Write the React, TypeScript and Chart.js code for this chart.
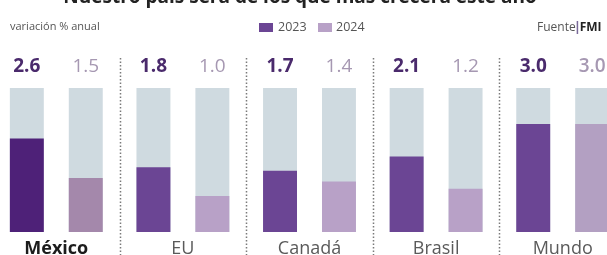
import React, { useEffect, useRef } from "react";
import { Chart, registerables } from "chart.js";

Chart.register(...registerables);

const categories = ["México", "EU", "Canadá", "Brasil", "Mundo"];
const values2023 = [2.6, 1.8, 1.7, 2.1, 3.0];
const values2024 = [1.5, 1.0, 1.4, 1.2, 3.0];
const scaleTop = [4, 4, 4, 4, 4];
const labels2023 = ["2.6", "1.8", "1.7", "2.1", "3.0"];
const labels2024 = ["1.5", "1.0", "1.4", "1.2", "3.0"];
const legendLabels = ["2023", "2024"];
const titleText = "Nuestro país será de los que más crecerá este año";
const subtitleText = "variación % anual";
const sourceLabel = "Fuente";
const sourceName = "FMI";

const FONT = "'Open Sans', 'DejaVu Sans', sans-serif";
const OFF = 7; // canvas offset (page x + OFF = canvas x)

const col2023 = ["#4e2178", "#6b4594", "#6b4594", "#6b4594", "#6b4594"];
const col2024 = ["#a488ab", "#b8a1c7", "#b8a1c7", "#b8a1c7", "#b3a0c2"];
const colBg = "#cfdae0";

const overlay = {
  id: "overlay",
  afterDatasetsDraw(chart: any) {
    const ctx = chart.ctx;
    const xs = chart.scales.x;
    ctx.save();
    // dividers
    ctx.strokeStyle = "#7a7a7a";
    ctx.lineWidth = 1.5;
    ctx.setLineDash([1.5, 2]);
    for (let i = 0; i < categories.length - 1; i++) {
      const x = Math.round((xs.getPixelForValue(i) + xs.getPixelForValue(i + 1)) / 2) + 0.5;
      ctx.beginPath();
      ctx.moveTo(x, 58);
      ctx.lineTo(x, 255);
      ctx.stroke();
    }
    ctx.setLineDash([]);
    // value labels
    ctx.textAlign = "center";
    ctx.textBaseline = "middle";
    const m0 = chart.getDatasetMeta(0);
    const m1 = chart.getDatasetMeta(1);
    m0.data.forEach((bar: any, i: number) => {
      ctx.font = `bold 19px ${FONT}`;
      ctx.fillStyle = "#4a2a6c";
      ctx.fillText(labels2023[i], bar.x, 67);
    });
    m1.data.forEach((bar: any, i: number) => {
      ctx.font = i === 4 ? `600 19px ${FONT}` : `19px ${FONT}`;
      ctx.fillStyle = "#a698b2";
      ctx.fillText(labels2024[i], bar.x, 67);
    });
    // category labels
    categories.forEach((c, i) => {
      const x = xs.getPixelForValue(i);
      if (i === 0) {
        ctx.font = `bold 18px ${FONT}`;
        ctx.fillStyle = "#1c1c1c";
      } else {
        ctx.font = `18px ${FONT}`;
        ctx.fillStyle = "#5a5a5a";
      }
      ctx.fillText(c, x, 249);
    });
    // title (cropped at top)
    ctx.font = `bold 19px ${FONT}`;
    ctx.fillStyle = "#222";
    ctx.textBaseline = "alphabetic";
    ctx.fillText(titleText, 300 + OFF, 3);
    // subtitle
    ctx.textAlign = "left";
    ctx.textBaseline = "middle";
    ctx.font = `11px ${FONT}`;
    ctx.fillStyle = "#555";
    ctx.fillText(subtitleText, 10 + OFF, 27);
    // legend
    ctx.font = `12.5px ${FONT}`;
    ctx.fillStyle = col2023[1];
    ctx.fillRect(259 + OFF, 23, 14, 9);
    ctx.fillStyle = "#555";
    ctx.fillText(legendLabels[0], 278 + OFF, 27.5);
    ctx.fillStyle = col2024[1];
    ctx.fillRect(318 + OFF, 23, 14, 9);
    ctx.fillStyle = "#555";
    ctx.fillText(legendLabels[1], 336 + OFF, 27.5);
    // source
    ctx.font = `12px ${FONT}`;
    ctx.fillStyle = "#555";
    ctx.fillText(sourceLabel, 537 + OFF, 27.5);
    const w = ctx.measureText(sourceLabel).width;
    ctx.fillStyle = "#7a6a9a";
    ctx.fillRect(537 + OFF + w + 1, 21, 1.5, 13);
    ctx.font = `bold 12px ${FONT}`;
    ctx.fillStyle = "#222";
    ctx.fillText(sourceName, 537 + OFF + w + 4, 27.5);
    ctx.restore();
  },
};

export default function App() {
  const ref = useRef<HTMLCanvasElement>(null);
  useEffect(() => {
    document.body.style.margin = "0";
    const chart = new Chart(ref.current as HTMLCanvasElement, {
      type: "bar",
      data: {
        labels: categories,
        datasets: [
          { label: "2023", data: values2023, backgroundColor: col2023, stack: "a" },
          { label: "2024", data: values2024, backgroundColor: col2024, stack: "b" },
          { label: "bg2023", data: scaleTop, backgroundColor: colBg, stack: "a" },
          { label: "bg2024", data: scaleTop, backgroundColor: colBg, stack: "b" },
        ],
      },
      options: {
        animation: false,
        responsive: false,
        devicePixelRatio: 1,
        categoryPercentage: 0.931,
        barPercentage: 0.576,
        layout: { padding: { left: 0, right: 7, top: 88, bottom: 23 } },
        plugins: { legend: { display: false }, tooltip: { enabled: false } },
        scales: {
          x: { display: false, stacked: true },
          y: { display: false, stacked: false, min: 0, max: 4 },
        },
      } as any,
      plugins: [overlay],
    });
    return () => chart.destroy();
  }, []);
  return (
    <div style={{ position: "relative", width: 607, height: 255, overflow: "hidden", background: "#fff" }}>
      <canvas ref={ref} width={640} height={255} style={{ position: "absolute", left: -OFF, top: 0 }} />
    </div>
  );
}
